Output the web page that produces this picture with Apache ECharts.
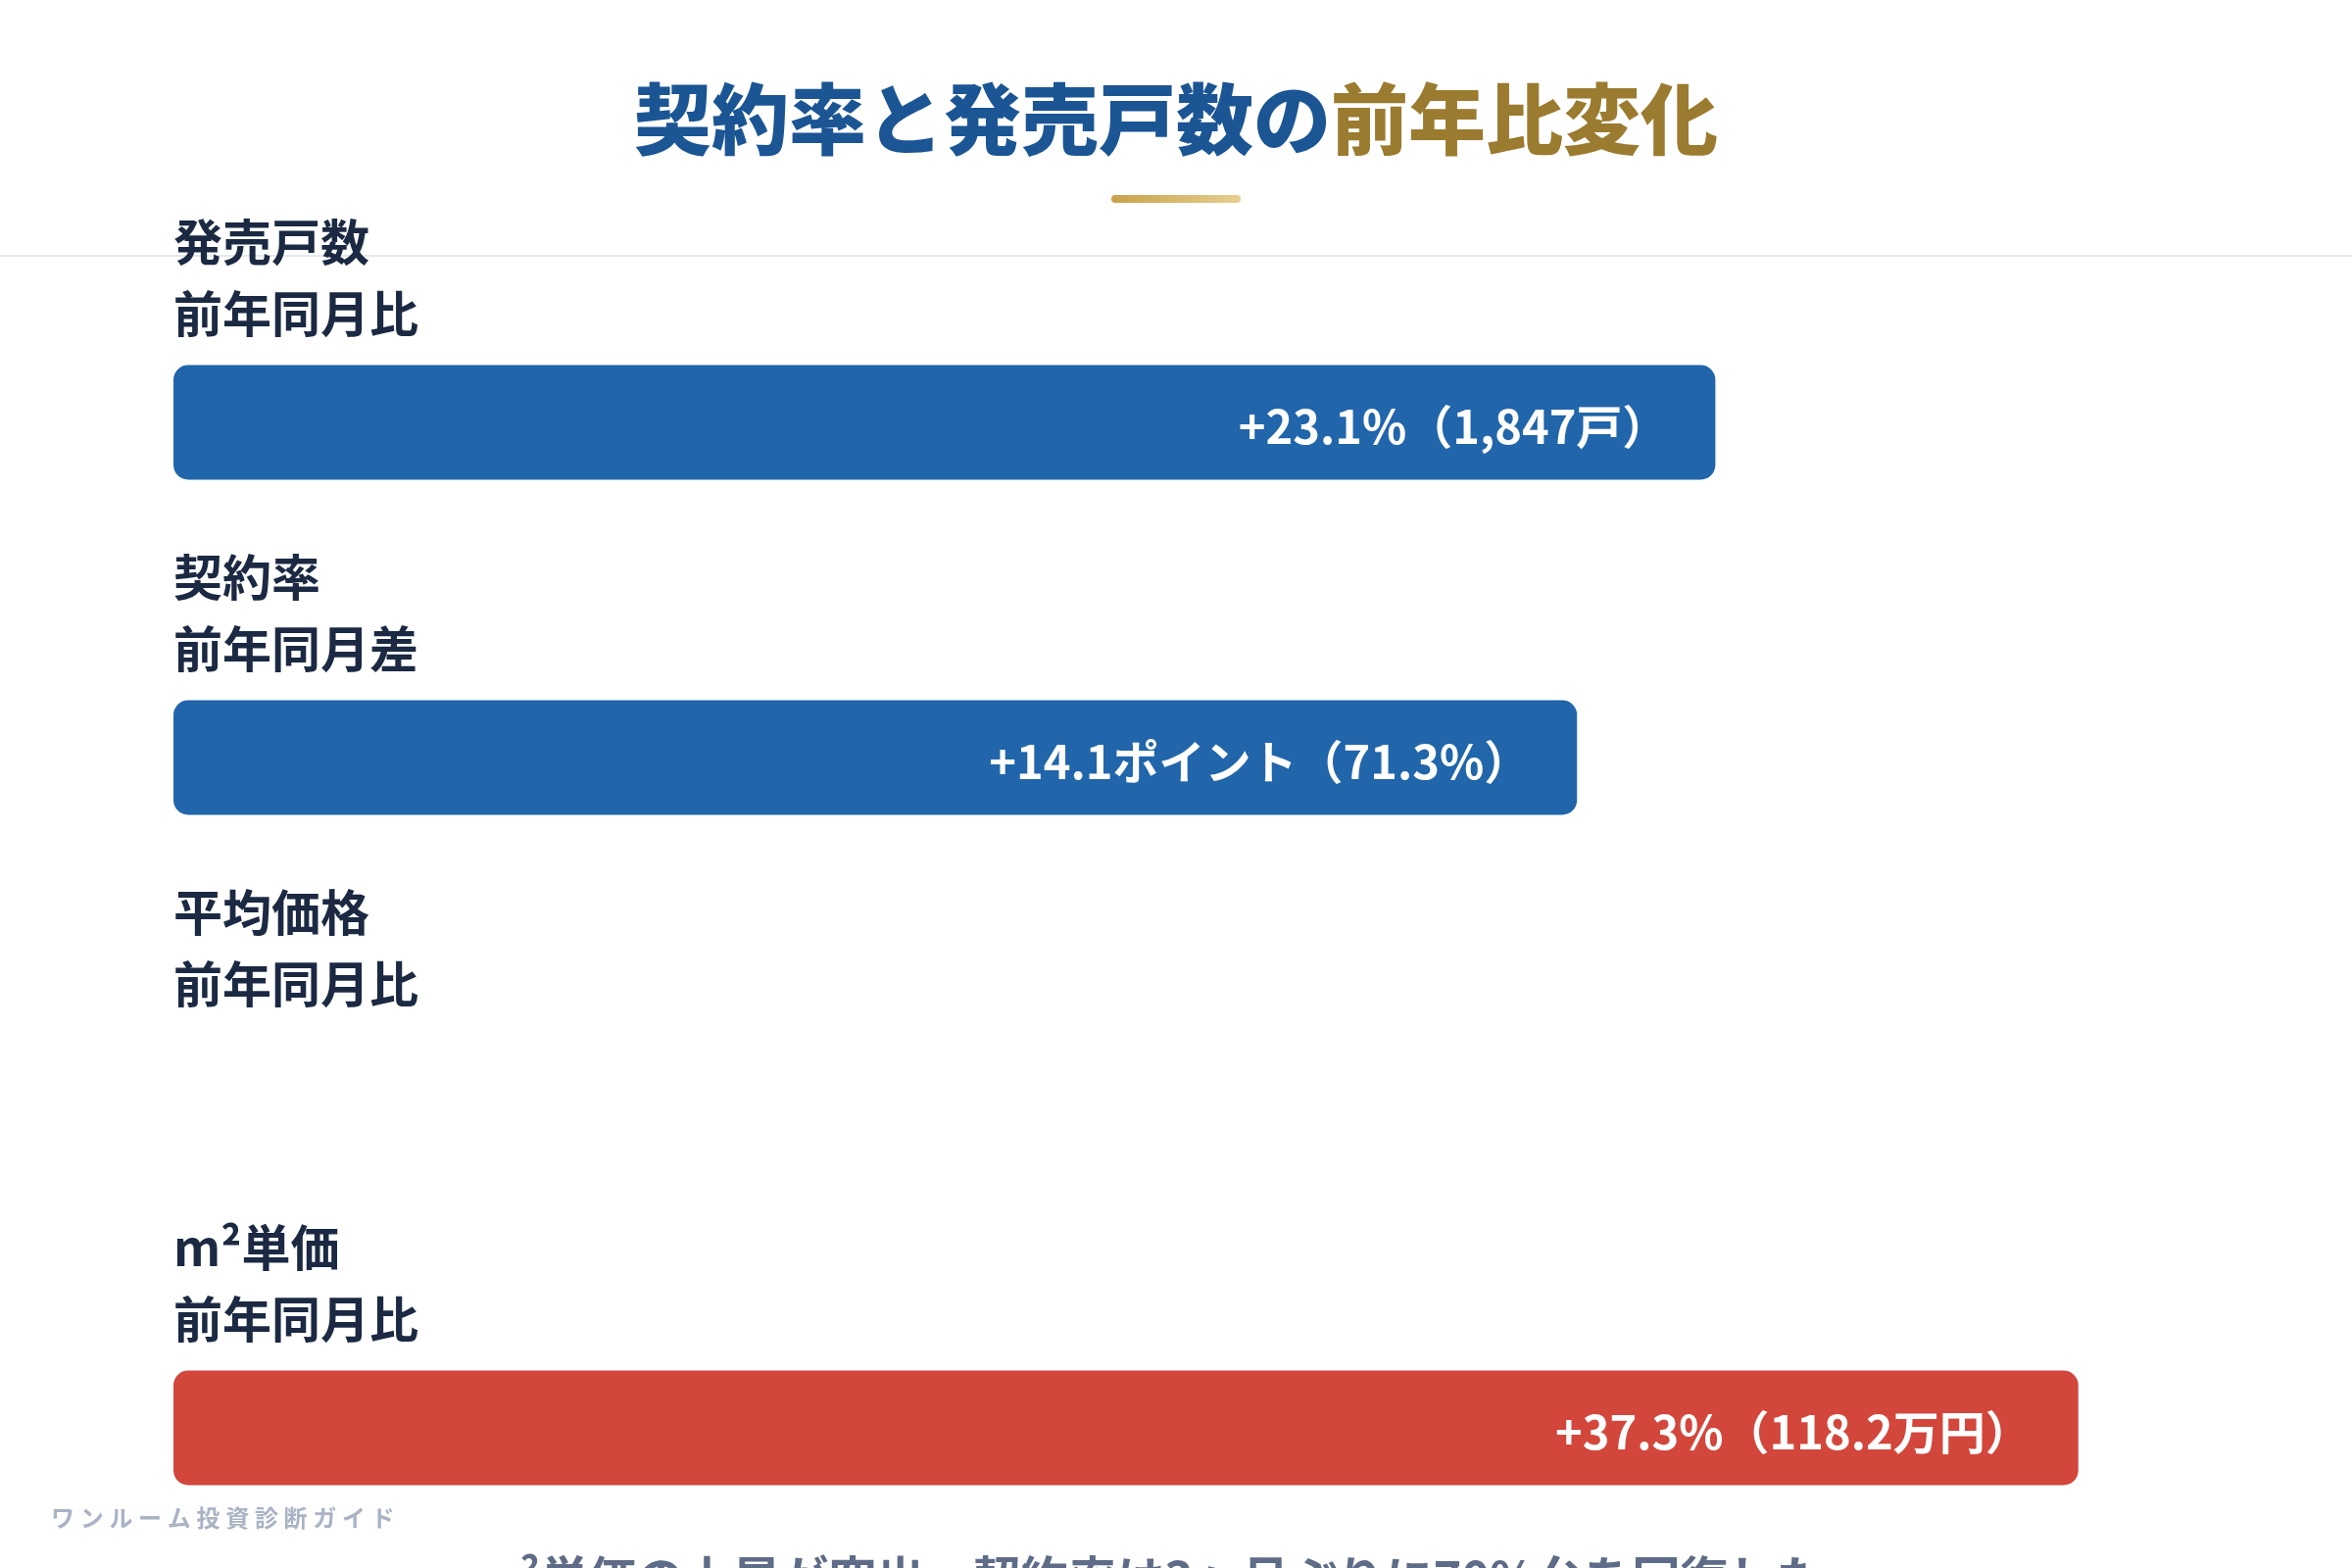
<!DOCTYPE html>
<html><head><meta charset="utf-8">
<script src="https://cdn.jsdelivr.net/npm/echarts@6/dist/echarts.min.js"></script>
<style>html,body{margin:0;padding:0;background:#fff}#c{width:2400px;height:1600px}</style>
</head><body><div id="c"></div>
<script>
// Category labels (metric + comparison basis)
const categories = ['発売戸数\n前年同月比', '契約率\n前年同月差', '平均価格\n前年同月比', 'm²単価\n前年同月比'];
// Bar length index (share of track width, %); 平均価格 has no bar
const barLength = [76.9, 70.0, null, 95.0];
// Text shown inside each bar
const valueLabels = ['+23.1%（1,847戸）', '+14.1ポイント（71.3%）', '', '+37.3%（118.2万円）'];
const barColors = ['#2165aa', '#2165aa', '#2165aa', '#d2463b'];
const brandText = 'ワンルーム投資診断ガイド';
const noteText = 'm²単価の上昇が突出、契約率は3ヶ月ぶりに70%台を回復した。';

const FONT = '"Noto Sans CJK JP", "Noto Sans", sans-serif';
const chart = echarts.init(document.getElementById('c'), null, {renderer: 'canvas'});

const brandChars = Array.from(brandText).map((ch, i) => ({
  type: 'text', x: 52 + i * 29.7, y: 1549,
  style: {text: ch, font: 'bold 24px ' + FONT, fill: '#a9b3c4', textVerticalAlign: 'middle'}
}));

chart.setOption({
  backgroundColor: '#ffffff',
  animation: false,
  title: {
    left: 'center', top: 72, padding: 0,
    text: '{a|契約率と発売戸数の}{b|前年比変化}',
    textStyle: {
      rich: {
        a: {fontFamily: FONT, fontSize: 79, fontWeight: 900, color: '#1b5594', lineHeight: 100},
        b: {fontFamily: FONT, fontSize: 79, fontWeight: 900, color: '#9b7b2f', lineHeight: 100}
      }
    }
  },
  grid: {left: 177, right: 177, top: 260, height: 1368, containLabel: false, outerBoundsMode: 'none'},
  xAxis: {type: 'value', min: 0, max: 100, show: false},
  yAxis: {
    type: 'category', data: categories, inverse: true,
    axisLine: {show: false}, axisTick: {show: false}, splitLine: {show: false},
    axisLabel: {
      inside: true, margin: 0, interval: 0, align: 'left', verticalAlign: 'bottom',
      padding: [0, 0, 75, 0], lineHeight: 73,
      fontFamily: FONT, fontSize: 50, fontWeight: 'bold', color: '#1b2942'
    }
  },
  graphic: [
    {type: 'line', z: -10, shape: {x1: 0, y1: 261, x2: 2400, y2: 261}, style: {stroke: '#e5e8ee', lineWidth: 2}},
    {type: 'rect', shape: {x: 1134, y: 199, width: 132, height: 8, r: 4},
      style: {fill: new echarts.graphic.LinearGradient(0, 0, 1, 0, [{offset: 0, color: '#c9a24a'}, {offset: 1, color: '#e6cf90'}])}},
    {type: 'group', children: brandChars},
    {type: 'text', x: 1197, y: 1586,
      style: {text: noteText, font: 'bold 49px ' + FONT,
        fill: '#5f6c87', textAlign: 'center', textVerticalAlign: 'top'}}
  ],
  series: [{
    type: 'bar',
    data: barLength.map((v, i) => ({value: v, itemStyle: {color: barColors[i]}})),
    barWidth: 117,
    itemStyle: {borderRadius: 15},
    label: {
      show: true, position: 'insideRight', distance: 48, offset: [0, 4],
      formatter: p => valueLabels[p.dataIndex],
      fontFamily: FONT, fontSize: 47, fontWeight: 'bold', color: '#ffffff'
    }
  }]
});
</script></body></html>
